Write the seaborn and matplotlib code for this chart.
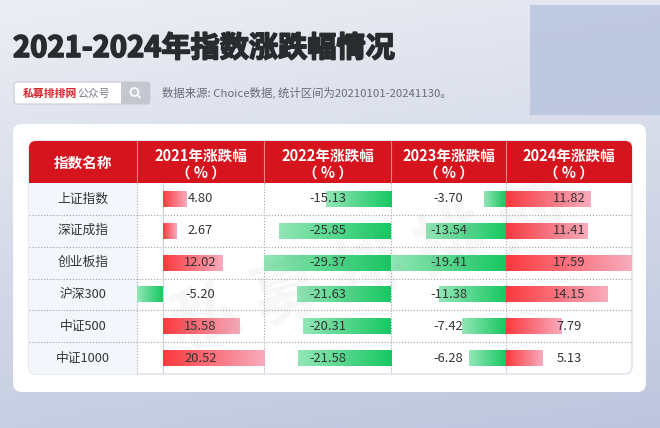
import numpy as np
import seaborn as sns
import matplotlib.pyplot as plt
import matplotlib.patheffects as pe
from matplotlib.patches import FancyBboxPatch, Rectangle, Circle
from matplotlib.colors import to_rgb

names = ['上证指数', '深证成指', '创业板指', '沪深300', '中证500', '中证1000']
years = ['2021', '2022', '2023', '2024']
chg_2021 = [4.80, 2.67, 12.02, -5.20, 15.58, 20.52]
chg_2022 = [-15.13, -25.85, -29.37, -21.63, -20.31, -21.58]
chg_2023 = [-3.70, -13.54, -19.41, -11.38, -7.42, -6.28]
chg_2024 = [11.82, 11.41, 17.59, 14.15, 7.79, 5.13]
columns = [chg_2021, chg_2022, chg_2023, chg_2024]

title = '2021-2024年指数涨跌幅情况'
source = '数据来源: Choice数据, 统计区间为20210101-20241130。'

sns.set_theme(style='white')
plt.rcParams['font.family'] = ['Noto Sans CJK SC', 'DejaVu Sans']

W, H = 660, 428
fig = plt.figure(figsize=(6.6, 4.28), dpi=100)
bg = fig.add_axes([0, 0, 1, 1])
bg.set_xlim(0, W)
bg.set_ylim(H, 0)
bg.axis('off')

# background wash
yy, xx = np.mgrid[0:1:120j, 0:1:120j]
t = np.clip(0.8 * yy + 0.2 * xx, 0, 1)[..., None]
c0 = np.array(to_rgb('#eceef3'))
c1 = np.array(to_rgb('#bec6de'))
bg.imshow(c0 + (c1 - c0) * t, extent=(0, W, H, 0), aspect='auto', zorder=0)
bg.add_patch(Rectangle((530, 5), 130, 110, fc='#b9c4de', ec='none', alpha=0.85, zorder=0.5))

# title + source line
bg.text(13, 48, title, fontsize=21, fontweight='heavy', color='#2a2b2f', va='center', zorder=3,
        path_effects=[pe.withStroke(linewidth=1.2, foreground='#2a2b2f')])
bg.add_patch(FancyBboxPatch((14, 82), 136, 22, boxstyle='round,pad=0,rounding_size=3',
                            fc='white', ec='#c8ccd5', lw=0.8, zorder=2))
bg.add_patch(FancyBboxPatch((121, 82), 29, 22, boxstyle='round,pad=0,rounding_size=3',
                            fc='#c3c7d0', ec='none', zorder=2.1))
bg.add_patch(Rectangle((121, 82), 6, 22, fc='#c3c7d0', ec='none', zorder=2.1))
bg.add_patch(Circle((134.5, 92), 4, fc='none', ec='white', lw=1.2, zorder=2.2))
bg.plot([137.3, 140], [94.8, 97.5], color='white', lw=1.3, zorder=2.2)
bg.text(23, 93.5, '私募排排网', fontsize=7.8, fontweight='bold', color='#d6232c', va='center', zorder=3)
bg.text(77, 93.5, '公众号', fontsize=7.8, color='#7a7d85', va='center', zorder=3)
bg.text(162, 93, source, fontsize=8.2, color='#686c75', va='center', zorder=3)

# white panel + table frame
bg.add_patch(FancyBboxPatch((13, 124), 633, 268, boxstyle='round,pad=0,rounding_size=9',
                            fc='white', ec='none', zorder=1))
tx0, tx1, ty0, thead, ty1 = 29, 632, 141, 183, 374
frame = FancyBboxPatch((tx0, ty0), tx1 - tx0, ty1 - ty0, boxstyle='round,pad=0,rounding_size=7',
                       fc='white', ec='#d9dde6', lw=0.9, zorder=1.2)
bg.add_patch(frame)
first = Rectangle((tx0, thead), 137 - tx0, ty1 - thead, fc='#f3f6fb', ec='none', zorder=1.3)
bg.add_patch(first)
first.set_clip_path(frame)

red = '#d6141d'
bg.add_patch(FancyBboxPatch((tx0, ty0), tx1 - tx0, thead - ty0, boxstyle='round,pad=0,rounding_size=7',
                            fc=red, ec='none', zorder=1.5))
bg.add_patch(Rectangle((tx0, thead - 12), tx1 - tx0, 12, fc=red, ec='none', zorder=1.5))

bounds = [29, 137, 264, 391, 506, 632]
row_h = (ty1 - thead) / len(names)
for xb in bounds[1:-1]:
    bg.plot([xb, xb], [ty0, thead], color='#ef8489', lw=0.8, zorder=1.6)
    bg.plot([xb, xb], [thead, ty1], color='#9ea2b0', lw=0.8, ls=(0, (1, 1.6)), zorder=1.6)
for k in range(1, len(names)):
    yk = thead + k * row_h
    bg.plot([tx0, tx1], [yk, yk], color='#9ea2b0', lw=0.8, ls=(0, (1, 1.6)), zorder=1.6)

centers = [(bounds[i] + bounds[i + 1]) / 2 for i in range(len(bounds) - 1)]
bg.text(centers[0], 163, '指数名称', fontsize=10.5, fontweight='bold', color='white',
        ha='center', va='center', zorder=3)
for c, yr in zip(centers[1:], years):
    bg.text(c, 156, f'{yr}年涨跌幅', fontsize=10.5, fontweight='bold', color='white',
            ha='center', va='center', zorder=3)
    bg.text(c, 173, '（ % ）', fontsize=10.5, fontweight='bold', color='white',
            ha='center', va='center', zorder=3)
for i, n in enumerate(names):
    bg.text(centers[0], thead + (i + 0.5) * row_h, n, fontsize=9.2, color='#333333',
            ha='center', va='center', zorder=3)

# data bar columns
red_s, red_l = np.array(to_rgb('#fb3a3f')), np.array(to_rgb('#f8abbc'))
grn_s, grn_l = np.array(to_rgb('#17c862')), np.array(to_rgb('#92e6b6'))
ramp = np.linspace(0, 1, 64)[None, :, None]

for j, vals in enumerate(columns):
    x0, x1 = bounds[j + 1], bounds[j + 2]
    ax = fig.add_axes([x0 / W, 1 - ty1 / H, (x1 - x0) / W, (ty1 - thead) / H])
    ax.patch.set_alpha(0)
    sns.barplot(x=vals, y=names, orient='h', color=red_s, width=0.5, ax=ax)
    lo, hi = min(0, min(vals)), max(0, max(vals))
    for p, v in zip(ax.patches, vals):
        xa, xb2 = sorted([p.get_x(), p.get_x() + p.get_width()])
        ya, yb = p.get_y(), p.get_y() + p.get_height()
        if v >= 0:
            g = red_s + (red_l - red_s) * ramp
        else:
            g = grn_l + (grn_s - grn_l) * ramp
        p.set_facecolor('none')
        p.set_edgecolor('none')
        ax.imshow(g, extent=(xa, xb2, yb, ya), aspect='auto', zorder=2, interpolation='bilinear')
    if lo < 0 < hi:
        ax.axvline(0, color='#d0d3da', lw=0.8, zorder=1)
    for i, v in enumerate(vals):
        ax.text((lo + hi) / 2, i, f'{v:.2f}', fontsize=9.3, color='#333333',
                ha='center', va='center', zorder=3)
    ax.set_xlim(lo, hi)
    ax.set_ylim(len(names) - 0.5, -0.5)
    ax.axis('off')

# faint watermark
fig.text(0.56, 0.37, '私 募 排 排 网', fontsize=50, fontweight='bold', color='#7a7a7a',
         alpha=0.06, rotation=17, ha='center', va='center')

fig.savefig('out.png', dpi=100)
